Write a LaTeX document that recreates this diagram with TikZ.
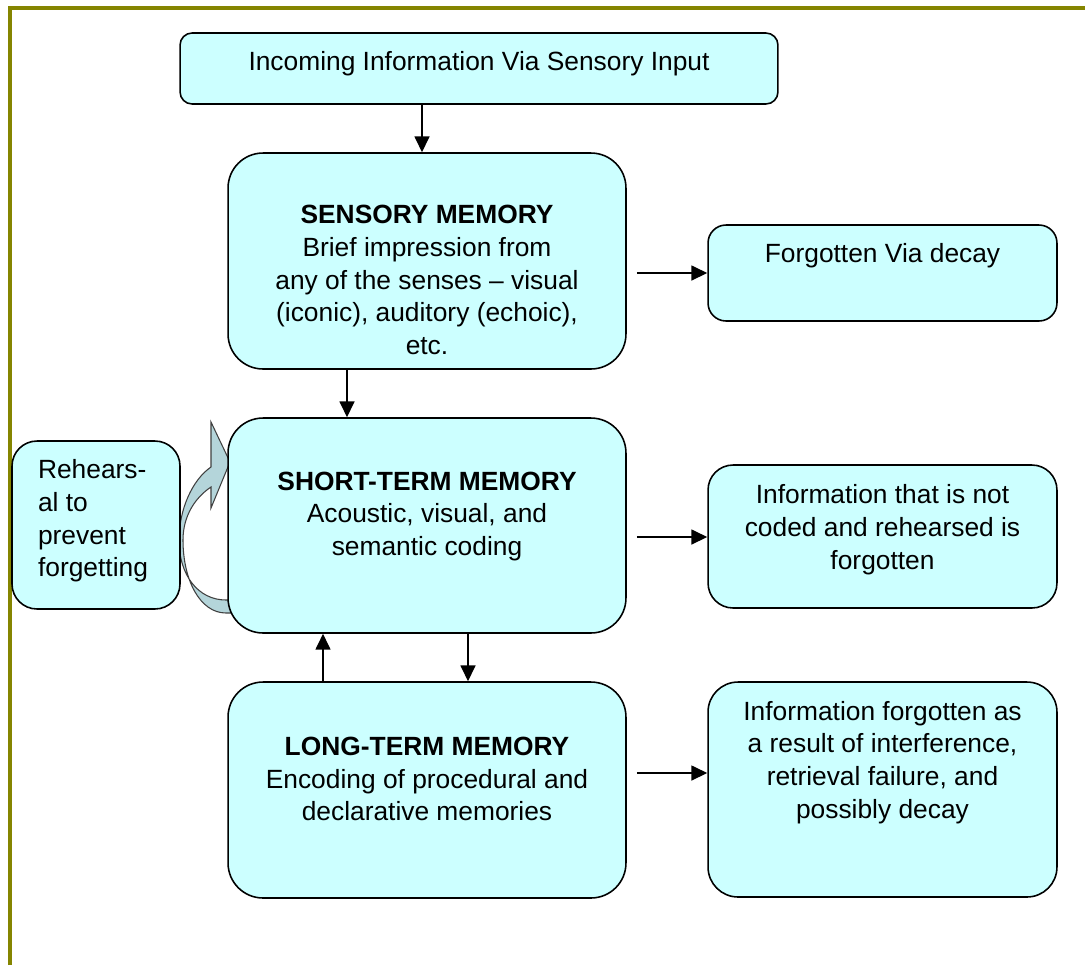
\documentclass[tikz,border=0pt]{standalone}
\usepackage{fontspec}
\setmainfont{Liberation Sans}
\usetikzlibrary{arrows.meta,calc,positioning}
\definecolor{boxcyan}{HTML}{CCFFFF}
\definecolor{frameolive}{HTML}{858500}
\definecolor{loopfill}{RGB}{180,213,218}

\begin{document}
\begin{tikzpicture}[x=0.02cm,y=-0.02cm,every node/.style={font=\fontsize{15}{18.6}\selectfont},box/.style={rounded corners=#1,draw=black,line width=0.9pt,fill=boxcyan,inner sep=0pt},txt/.style={align=center,inner sep=0pt},arrow/.style={-{Triangle[length=9pt,width=8.5pt]},line width=0.8pt}]
\useasboundingbox (0,0) rectangle (1085,965);
\draw[frameolive,line width=2.2pt] (10,965) -- (10,8) -- (1085,8);
% rehearsal loop, drawn under the short-term box
\draw[fill=loopfill,draw=black!75,line width=0.6pt] (240,600) -- (226,600) .. controls (198,600) and (179,575) .. (179,540) .. controls (179,510) and (192,480) .. (211,467) -- (211,422) -- (230,462) -- (211,508) -- (211,487) .. controls (196,497) and (183,515) .. (183,540) .. controls (183,580) and (200,613) .. (226,613) -- (240,613) -- cycle;
\node[box=0.24cm,minimum width=11.96cm,minimum height=1.42cm] (input) at (479,68.5) {};
\node[txt] (input-txt) at ($(input)+(0,-5)$) {Incoming Information Via Sensory Input};
\node[box=0.7cm,minimum width=7.96cm,minimum height=4.32cm] (sensory) at (427,261) {};
\node[txt] (sensory-txt) at ($(sensory)+(0,19)$) {\textbf{SENSORY MEMORY}\\Brief impression from\\any of the senses -- visual\\(iconic), auditory (echoic),\\etc.};
\node[box=0.36cm,minimum width=6.98cm,minimum height=1.92cm] (decay) at (882.5,273) {};
\node[txt] (decay-txt) at ($(decay)+(0,-17)$) {Forgotten Via decay};
\node[box=0.7cm,minimum width=7.96cm,minimum height=4.3cm] (stm) at (427,525.5) {};
\node[txt] (stm-txt) at ($(stm)+(0,-9)$) {\textbf{SHORT-TERM MEMORY}\\Acoustic, visual, and\\semantic coding};
\node[box=0.5cm,minimum width=3.36cm,minimum height=3.36cm] (rehearsal) at (96,525) {};
\node[txt,align=left] (rehearsal-txt) at ($(rehearsal)+(-3,-4)$) {Rehears-\\al to\\prevent\\forgetting};
\node[box=0.5cm,minimum width=6.98cm,minimum height=2.86cm] (notcoded) at (882.5,536.5) {};
\node[txt] (notcoded-txt) at ($(notcoded)+(0,-7)$) {Information that is not\\coded and rehearsed is\\forgotten};
\node[box=0.7cm,minimum width=7.96cm,minimum height=4.32cm] (ltm) at (427,790) {};
\node[txt] (ltm-txt) at ($(ltm)+(0,-11)$) {\textbf{LONG-TERM MEMORY}\\Encoding of procedural and\\declarative memories};
\node[box=0.6cm,minimum width=6.98cm,minimum height=4.3cm] (interfere) at (882.5,789.5) {};
\node[txt] (interfere-txt) at ($(interfere)+(0,-27)$) {Information forgotten as\\a result of interference,\\retrieval failure, and\\possibly decay};
% connectors
\draw[arrow] ($(input.south -| sensory.north)+(-5,0)$) -- ($(sensory.north)+(-5,0)$);
\draw[arrow] ($(sensory.east |- decay.west)+(10,0)$) -- (decay.west);
\draw[arrow] ($(sensory.south)+(-80,0)$) -- ($(stm.north)+(-80,0)$);
\draw[arrow] ($(stm.east |- notcoded.west)+(10,0.5)$) -- ($(notcoded.west)+(0,0.5)$);
\draw[arrow] ($(stm.south)+(41,0)$) -- ($(ltm.north)+(41,0)$);
\draw[arrow] ($(ltm.north)+(-104,0)$) -- ($(stm.south)+(-104,0)$);
\draw[arrow] ($(ltm.east)+(10,-17)$) -- ($(ltm.east -| interfere.west)+(0,-17)$);
\end{tikzpicture}
\end{document}
